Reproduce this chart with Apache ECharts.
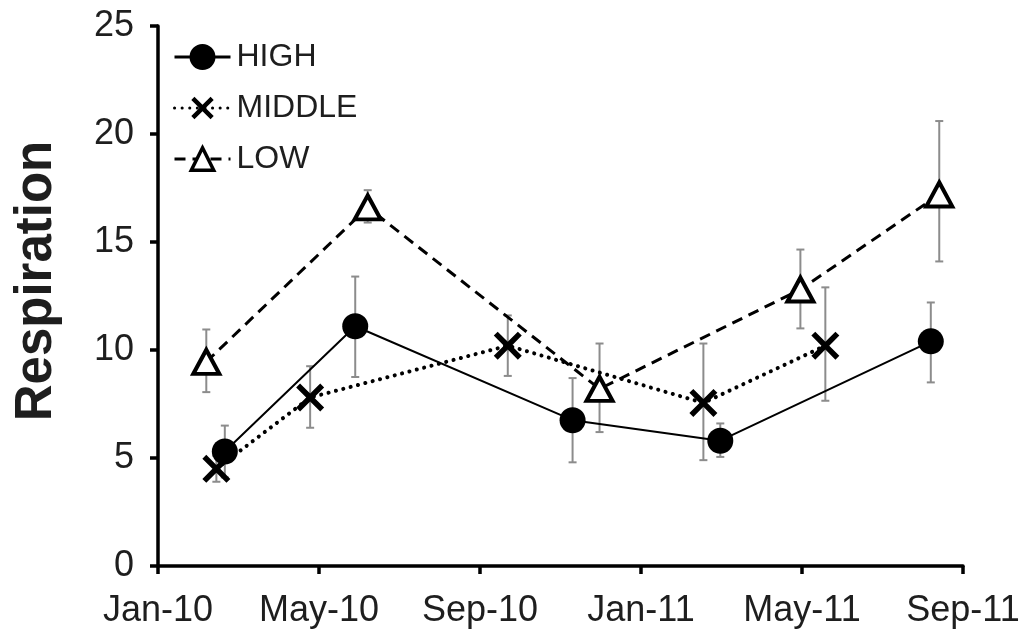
<!DOCTYPE html>
<html>
<head>
<meta charset="utf-8">
<script src="https://cdn.jsdelivr.net/npm/echarts@6/dist/echarts.min.js"></script>
<style>
  html, body { margin: 0; padding: 0; background: #fff; }
  #chart { width: 1024px; height: 635px; }
</style>
</head>
<body>
<div id="chart"></div>
<script>
// Month offsets from Jan-10 (x positions), values and error-bar bounds
const tickLabels = ['Jan-10', 'May-10', 'Sep-10', 'Jan-11', 'May-11', 'Sep-11'];

const highMonths  = [1.66, 4.9, 10.3, 13.97, 19.2];
const highValues  = [5.3, 11.1, 6.75, 5.8, 10.4];
const highUpper   = [6.5, 13.4, 8.7, 6.6, 12.2];
const highLower   = [4.1, 8.75, 4.8, 5.05, 8.5];

const middleMonths = [1.45, 3.78, 8.69, 13.55, 16.58];
const middleValues = [4.5, 7.8, 10.2, 7.55, 10.2];
const middleUpper  = [5.1, 9.25, 11.6, 10.3, 12.9];
const middleLower  = [3.9, 6.4, 8.8, 4.9, 7.65];

const lowMonths = [1.2, 5.21, 10.97, 15.96, 19.41];
const lowValues = [9.45, 16.6, 8.2, 12.8, 17.2];
const lowUpper  = [10.95, 17.4, 10.3, 14.65, 20.6];
const lowLower  = [8.05, 15.9, 6.2, 11.0, 14.1];

const FONT = "'Liberation Sans', Arial, Helvetica, sans-serif";
const TEXT = '#1e1e1e';
const CROSS = 'path://M0,1.4 L1.4,0 L5,3.6 L8.6,0 L10,1.4 L6.4,5 L10,8.6 L8.6,10 L5,6.4 L1.4,10 L0,8.6 L3.6,5 Z';

function pts(xs, ys) { return xs.map((x, i) => [x, ys[i]]); }
function errs(xs, lo, hi) { return xs.map((x, i) => [x, lo[i], hi[i]]); }

function errorSeries(name, data) {
  return {
    type: 'custom',
    name: name,
    z: 1,
    silent: true,
    data: data,
    encode: { x: 0, y: [1, 2] },
    renderItem: function (params, api) {
      const x = api.value(0);
      const lo = api.coord([x, api.value(1)]);
      const hi = api.coord([x, api.value(2)]);
      const cap = 4;
      const style = { stroke: '#8c8c8c', lineWidth: 2, fill: null };
      return {
        type: 'group',
        children: [
          { type: 'line', shape: { x1: lo[0], y1: lo[1], x2: hi[0], y2: hi[1] }, style: style },
          { type: 'line', shape: { x1: hi[0] - cap, y1: hi[1], x2: hi[0] + cap, y2: hi[1] }, style: style },
          { type: 'line', shape: { x1: lo[0] - cap, y1: lo[1], x2: lo[0] + cap, y2: lo[1] }, style: style }
        ]
      };
    }
  };
}

const chart = echarts.init(document.getElementById('chart'), null, { renderer: 'canvas' });
chart.setOption({
  animation: false,
  backgroundColor: '#ffffff',
  grid: { left: 158, right: 61, top: 26, bottom: 69, containLabel: false },
  legend: {
    data: ['HIGH', 'MIDDLE', 'LOW'],
    orient: 'vertical',
    left: 173,
    top: 41,
    padding: 0,
    itemWidth: 56,
    itemHeight: 28,
    itemGap: 19,
    lineStyle: { width: 3 },
    itemStyle: { borderWidth: 3.5 },
    textStyle: { fontFamily: FONT, fontSize: 32, color: TEXT, lineHeight: 28, padding: [0, 0, 0, 1] }
  },
  graphic: [{
    type: 'text',
    x: 37,
    y: 281,
    rotation: Math.PI / 2,
    style: {
      text: 'Respiration',
      fontFamily: FONT,
      fontWeight: 'bold',
      fontSize: 51,
      fill: TEXT,
      textAlign: 'center',
      textVerticalAlign: 'middle'
    }
  }],
  xAxis: {
    type: 'value',
    min: 0,
    max: 20,
    interval: 4,
    splitLine: { show: false },
    axisLine: { show: true, onZero: false, lineStyle: { color: '#000', width: 3.5 } },
    axisTick: { show: true, inside: false, length: 8, lineStyle: { color: '#000', width: 3.5 } },
    axisLabel: {
      margin: 27,
      fontFamily: FONT,
      fontSize: 36,
      color: TEXT,
      formatter: function (v) { return tickLabels[Math.round(v / 4)] || ''; }
    }
  },
  yAxis: {
    type: 'value',
    min: 0,
    max: 25,
    interval: 5,
    splitLine: { show: false },
    axisLine: { show: true, lineStyle: { color: '#000', width: 3.5 } },
    axisTick: { show: true, inside: false, length: 8, lineStyle: { color: '#000', width: 3.5 } },
    axisLabel: { margin: 24, fontFamily: FONT, fontSize: 36, color: TEXT }
  },
  series: [
    errorSeries('HIGH-err', errs(highMonths, highLower, highUpper)),
    errorSeries('MIDDLE-err', errs(middleMonths, middleLower, middleUpper)),
    errorSeries('LOW-err', errs(lowMonths, lowLower, lowUpper)),
    {
      name: 'HIGH',
      type: 'line',
      z: 5,
      data: pts(highMonths, highValues),
      symbol: 'circle',
      symbolSize: 26,
      itemStyle: { color: '#000', borderColor: '#000', borderWidth: 0 },
      lineStyle: { color: '#000', width: 2, type: 'solid' }
    },
    {
      name: 'MIDDLE',
      type: 'line',
      z: 4,
      data: pts(middleMonths, middleValues),
      symbol: CROSS,
      symbolSize: 28,
      itemStyle: { color: '#000', borderWidth: 0 },
      lineStyle: { color: '#000', width: 4, type: [0.1, 7.5], cap: 'round' }
    },
    {
      name: 'LOW',
      type: 'line',
      z: 3,
      data: pts(lowMonths, lowValues),
      symbol: 'triangle',
      symbolSize: [26, 24],
      itemStyle: { color: '#fff', borderColor: '#000', borderWidth: 4 },
      lineStyle: { color: '#000', width: 3, type: [11, 7] }
    }
  ]
});
</script>
</body>
</html>
